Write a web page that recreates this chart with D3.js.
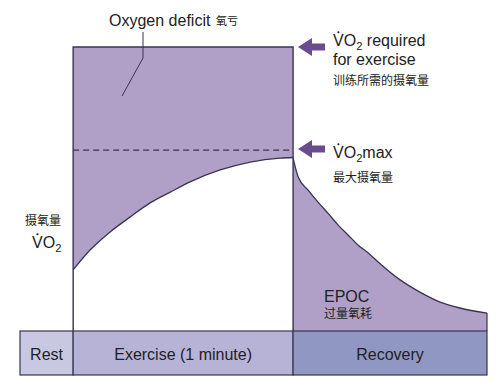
<!DOCTYPE html>
<html>
<head>
<meta charset="utf-8">
<script src="https://cdn.jsdelivr.net/npm/d3@7"></script>
<style>
  body { margin: 0; background: #fff; }
  svg { display: block; font-family: "Liberation Sans", Arial, sans-serif; }
  .cjk { font-family: "Noto Sans CJK SC", sans-serif; }
</style>
</head>
<body>
<svg id="chart" width="500" height="382"></svg>
<script>
// phases along the bottom (time in seconds, exercise = 0..60)
const phases = ["Rest", "Exercise (1 minute)", "Recovery"];
const phaseEdges = [-14.5, 0, 60, 112.9];
const phaseColors = ["#c8c8e2", "#b7b3d7", "#9097c3"];

// VO2 as % of the requirement for the exercise
const vo2Required = 100;
const vo2Max = 63.7;

// rise of VO2 during exercise
const exerciseTime = [0, 4.6, 10.1, 15.5, 21, 26.5, 31.9, 40.1, 48.3, 56.5, 60];
const exerciseVO2 = [21.5, 28.5, 34.9, 40.1, 45.1, 48.9, 52.5, 56.7, 59.5, 60.9, 61.1];

// fall of VO2 during recovery (EPOC)
const recoveryTime = [60, 61.4, 64.1, 66.8, 69.5, 72.3, 75, 77.7, 80.5, 83.2, 89.2, 94.6, 100.1, 105.5, 112.9];
const recoveryVO2 = [60.9, 54.2, 49.6, 45.4, 41.5, 37.3, 33.8, 30.3, 27.5, 24.3, 18.0, 13.7, 10.2, 8.1, 6.3];

const svg = d3.select("#chart");
const purple = "#b0a0c8";
const ink = "#3a3450";
const arrowCol = "#6a4b8c";

const x = d3.scaleLinear().domain([phaseEdges[0], phaseEdges[3]]).range([20, 487]);
const y = d3.scaleLinear().domain([0, vo2Required]).range([331, 47]);
const bandTop = y(0), bandBottom = 375;

const exData = exerciseTime.map((t, i) => ({t: t, v: exerciseVO2[i]}));
const recData = recoveryTime.map((t, i) => ({t: t, v: recoveryVO2[i]}));

// oxygen deficit block
svg.append("rect")
  .attr("x", x(0)).attr("y", y(vo2Required))
  .attr("width", x(60) - x(0)).attr("height", y(0) - y(vo2Required))
  .attr("fill", purple);

// white area under exercise curve
svg.append("path")
  .datum(exData)
  .attr("fill", "#fff")
  .attr("d", d3.area().curve(d3.curveMonotoneX)
    .x(d => x(d.t)).y0(y(0)).y1(d => y(d.v)));

svg.append("path")
  .datum(exData)
  .attr("fill", "none").attr("stroke", ink).attr("stroke-width", 1.3)
  .attr("d", d3.line().curve(d3.curveMonotoneX).x(d => x(d.t)).y(d => y(d.v)));

// EPOC area
svg.append("path")
  .datum(recData)
  .attr("fill", purple)
  .attr("d", d3.area().curve(d3.curveMonotoneX)
    .x(d => x(d.t)).y0(y(0)).y1(d => y(d.v)));

svg.append("path")
  .datum(recData)
  .attr("fill", "none").attr("stroke", ink).attr("stroke-width", 1.3)
  .attr("d", d3.line().curve(d3.curveMonotoneX).x(d => x(d.t)).y(d => y(d.v)));

const last = recData[recData.length - 1];
svg.append("line")
  .attr("x1", x(last.t)).attr("x2", x(last.t))
  .attr("y1", y(last.v)).attr("y2", y(0))
  .attr("stroke", ink).attr("stroke-width", 1.2);

// block outline
svg.append("path")
  .attr("fill", "none").attr("stroke", ink).attr("stroke-width", 1.4)
  .attr("d", `M${x(0)},${y(0)}V${y(vo2Required)}H${x(60)}V${y(0)}`);

// VO2max dashed line
svg.append("line")
  .attr("x1", x(0)).attr("x2", x(60))
  .attr("y1", y(vo2Max)).attr("y2", y(vo2Max))
  .attr("stroke", ink).attr("stroke-width", 1.3)
  .attr("stroke-dasharray", "6,4");

// phase band
svg.append("g").selectAll("rect")
  .data(phases)
  .join("rect")
  .attr("x", (d, i) => x(phaseEdges[i]))
  .attr("y", bandTop)
  .attr("width", (d, i) => x(phaseEdges[i + 1]) - x(phaseEdges[i]))
  .attr("height", bandBottom - bandTop)
  .attr("fill", (d, i) => phaseColors[i])
  .attr("stroke", ink).attr("stroke-width", 1.2);

svg.append("g").selectAll("text")
  .data(phases)
  .join("text")
  .attr("x", (d, i) => (x(phaseEdges[i]) + x(phaseEdges[i + 1])) / 2)
  .attr("y", 360)
  .attr("text-anchor", "middle")
  .attr("font-size", 16)
  .attr("fill", "#222")
  .text(d => d);

// VO2 label helper (dot over V, subscript 2)
function vo2Label(px, py, rest, size) {
  const t = svg.append("text").attr("x", px).attr("y", py)
    .attr("font-size", size).attr("fill", "#222");
  t.append("tspan").text("VO");
  t.append("tspan").attr("font-size", size * 0.7).attr("dy", size * 0.28).text("2");
  if (rest) t.append("tspan").attr("dy", -size * 0.28).text(rest);
  svg.append("circle")
    .attr("cx", px + size * 0.34).attr("cy", py - size * 0.86)
    .attr("r", 1.1).attr("fill", "#222");
}

// arrows
function arrow(tipY) {
  const tx = 298;
  svg.append("path")
    .attr("fill", arrowCol)
    .attr("d", `M${tx},${tipY} L${tx + 14},${tipY - 9} L${tx + 14},${tipY - 3.5} L${tx + 27},${tipY - 3.5} L${tx + 27},${tipY + 3.5} L${tx + 14},${tipY + 3.5} L${tx + 14},${tipY + 9} Z`);
}
arrow(y(vo2Required));
arrow(y(vo2Max) - 1);

vo2Label(333, 46, " required", 16);
svg.append("text").attr("x", 333).attr("y", 65).attr("font-size", 16).attr("fill", "#222").text("for exercise");
svg.append("text").attr("class", "cjk").attr("x", 333).attr("y", 85).attr("font-size", 12).attr("fill", "#222").text("训练所需的摄氧量");

vo2Label(333, 158, "max", 16);
svg.append("text").attr("class", "cjk").attr("x", 333).attr("y", 182).attr("font-size", 12).attr("fill", "#222").text("最大摄氧量");

// y label
svg.append("text").attr("class", "cjk").attr("x", 25).attr("y", 225).attr("font-size", 12).attr("fill", "#222").text("摄氧量");
vo2Label(32, 248, null, 16);

// oxygen deficit label
svg.append("text").attr("x", 109).attr("y", 26).attr("font-size", 16).attr("fill", "#222").text("Oxygen deficit");
svg.append("text").attr("class", "cjk").attr("x", 216).attr("y", 25).attr("font-size", 11).attr("fill", "#222").text("氧亏");
svg.append("path")
  .attr("fill", "none").attr("stroke", ink).attr("stroke-width", 1)
  .attr("d", "M143,32V58L122,96");

// EPOC label
svg.append("text").attr("x", 324).attr("y", 302).attr("font-size", 16).attr("fill", "#222").text("EPOC");
svg.append("text").attr("class", "cjk").attr("x", 324).attr("y", 318).attr("font-size", 12).attr("fill", "#222").text("过量氧耗");
</script>
</body>
</html>
